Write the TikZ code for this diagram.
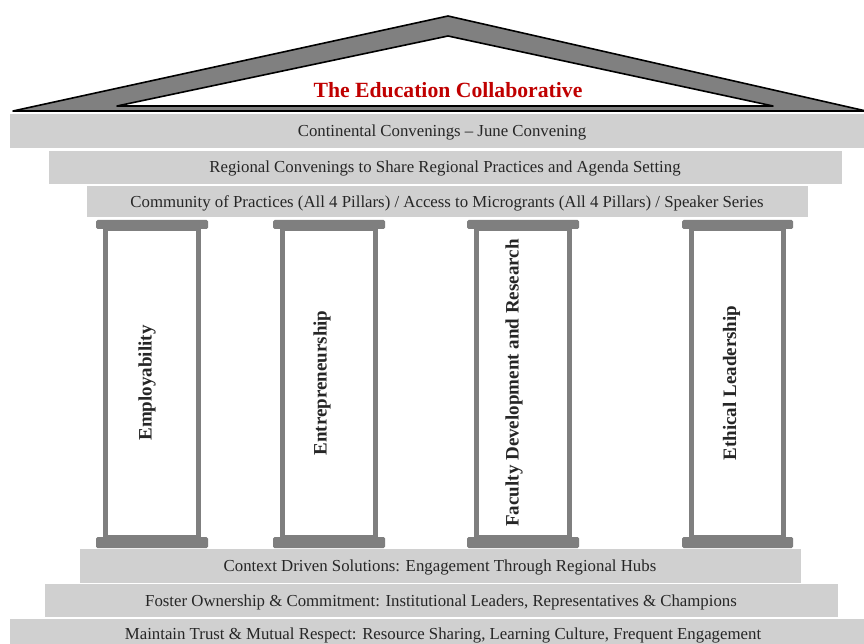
\documentclass[tikz,border=0pt]{standalone}
\usepackage{fontspec}
\setmainfont{Liberation Serif}
\definecolor{bargray}{HTML}{D0D0D0}
\definecolor{roofgray}{HTML}{808080}
\definecolor{pillargray}{HTML}{7F7F7F}
\definecolor{titlered}{HTML}{C00000}
\tikzset{
  bar/.style={fill=bargray, draw=none},
  bartext/.style={font=\fontsize{16.8}{18}\selectfont, text=black!85, inner sep=0pt},
  capbox/.style={fill=pillargray, draw=none, rounded corners=1.5pt},
  shaft/.style={fill=white, draw=pillargray, line width=5pt},
  pillartext/.style={font=\bfseries\fontsize{19}{21}\selectfont, rotate=90, text=black!85, inner sep=0pt},
}
\begin{document}
\begin{tikzpicture}[x=1pt,y=-1pt]
  \useasboundingbox (0,0) rectangle (864,644);
  \fill[white] (0,0) rectangle (864,644);

  % roof
  \filldraw[fill=roofgray, draw=black, line width=1.6pt, line join=round]
    (13,111) -- (448,16) -- (866,111) -- cycle;
  \filldraw[fill=white, draw=black, line width=1.6pt, line join=round]
    (117,106) -- (448,36) -- (773,106) -- cycle;
  \node[font=\bfseries\fontsize{21.7}{23}\selectfont, text=titlered, inner sep=0pt]
    (title) at (448,90) {The Education Collaborative};

  % upper beams
  \fill[bar] (10,114) rectangle (864,148);
  \node[bartext] (beamA) at (442,132) {Continental Convenings -- June Convening};
  \fill[bar] (49,151) rectangle (842,184);
  \node[bartext] (beamB) at (445,168) {Regional Convenings to Share Regional Practices and Agenda Setting};
  \fill[bar] (87,186) rectangle (808,217);
  \node[bartext] (beamC) at (447,203) {Community of Practices (All 4 Pillars) / Access to Microgrants (All 4 Pillars) / Speaker Series};

  % pillars: left cap edge, cap right edge, label offset, label
  \foreach \cl/\cr/\dx/\lbl/\nm in {
      96/208/-5/Employability/p1,
      273/385/-7/Entrepreneurship/p2,
      467/579/-9/Faculty Development and Research/p3,
      682/793/-6/Ethical Leadership/p4} {
    \fill[capbox] (\cl,220) rectangle (\cr,229);
    \draw[shaft] (\cl+9.5,229) rectangle (\cr-9.5,537);
    \fill[capbox] (\cl,537) rectangle (\cr,548);
    \node[pillartext] (\nm) at ({(\cl+\cr)/2+\dx},383) {\lbl};
  }

  % foundation steps
  \fill[bar] (80,549) rectangle (801,583);
  \node[bartext] (stepA) at (440,567) {Context Driven Solutions: Engagement Through Regional Hubs};
  \fill[bar] (45,584) rectangle (838,617);
  \node[bartext] (stepB) at (441,602) {Foster Ownership \& Commitment: Institutional Leaders, Representatives \& Champions};
  \fill[bar] (10,619) rectangle (864,650);
  \node[bartext] (stepC) at (443,635) {Maintain Trust \& Mutual Respect: Resource Sharing, Learning Culture, Frequent Engagement};
\end{tikzpicture}
\end{document}
